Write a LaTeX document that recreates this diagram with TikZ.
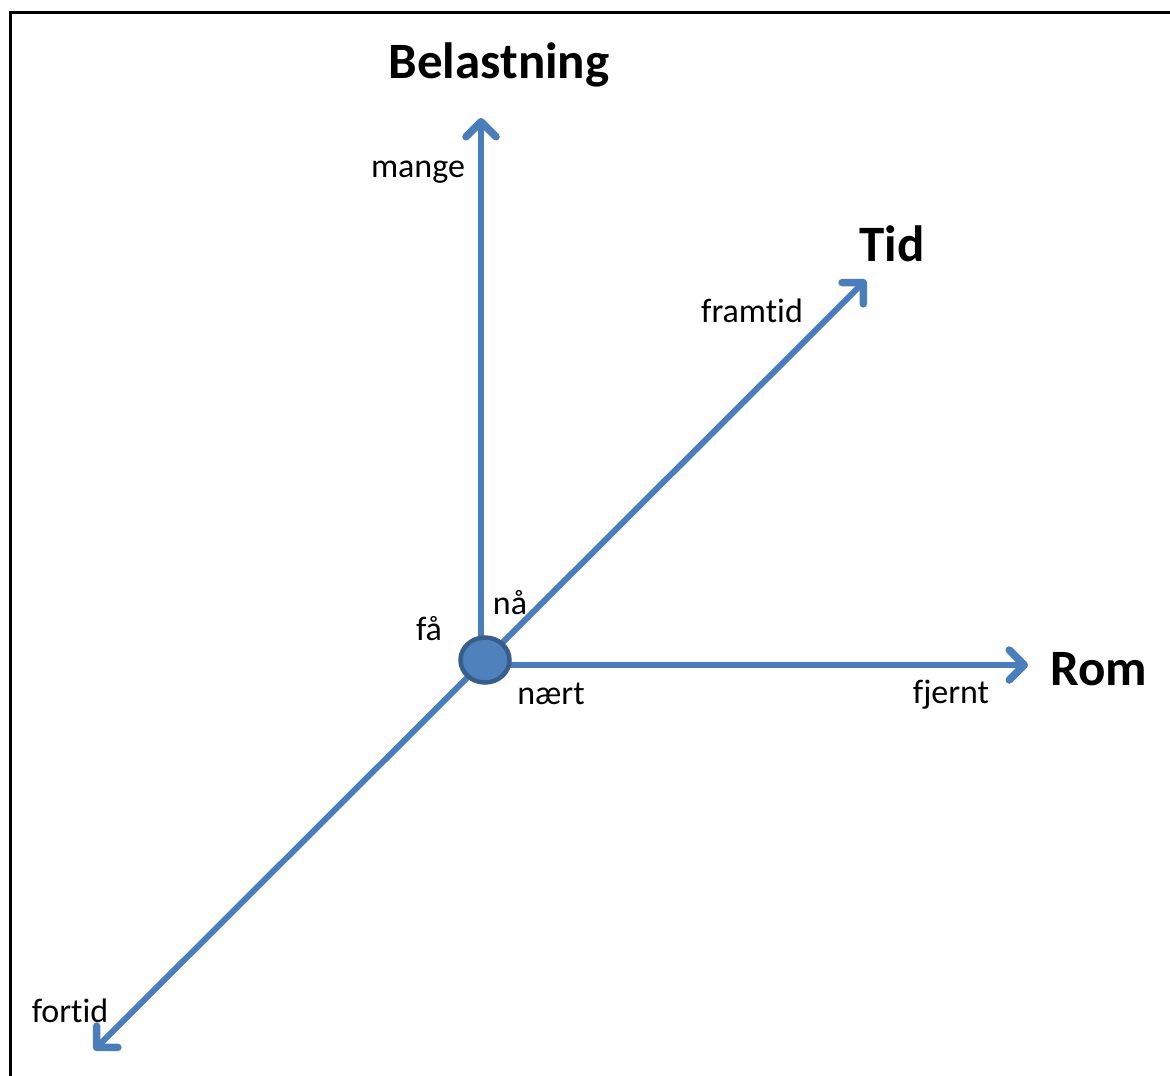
\documentclass[tikz,border=0pt]{standalone}
\usepackage{fontspec}
\setmainfont{Carlito}[Ligatures=NoCommon]
\usetikzlibrary{arrows.meta,shapes.geometric}
\definecolor{axisblue}{HTML}{4A7EBB}
\definecolor{dotfill}{HTML}{4F81BD}
\definecolor{dotline}{HTML}{385D8A}
\tikzset{
  axis/.style={draw=axisblue, line width=6pt, -{Straight Barb[length=15pt,width=30pt,line width=7.5pt,line cap=round,line join=round]}},
  small/.style={font=\fontsize{34}{38}\selectfont, inner sep=0pt},
  big/.style={font=\fontsize{51}{56}\selectfont\bfseries, inner sep=0pt},
  frame/.style={draw=black, line width=3pt}
}
\begin{document}
\begin{tikzpicture}[x=1pt,y=-1pt]
\useasboundingbox (0,0) rectangle (1170,1076);
\fill[white] (0,0) rectangle (1170,1076);
\coordinate (fl) at (10,1090);
\coordinate (tl) at (10,12);
\coordinate (tr) at (1185,12);
\draw[frame] (fl) -- (tl) -- (tr);
\coordinate (c) at (485,660);
\coordinate (vb) at (481,645);
\coordinate (up) at (481,118);
\coordinate (ne) at (866,280);
\coordinate (ea) at (1028,665);
\coordinate (eb) at (505,665);
\coordinate (sw) at (94,1050);
\draw[axis] (vb) -- (up);
\draw[axis] (c) -- (ne);
\draw[axis] (eb) -- (ea);
\draw[axis] (c) -- (sw);
\node[draw=dotline, fill=dotfill, line width=4.5pt, ellipse, minimum width=49pt, minimum height=45pt, inner sep=0pt] (dot) at (c) {};
\node[big] (bel) at (499,65) {Belastning};
\node[big] (tid) at (892,244) {Tid};
\node[big] (rom) at (1099,669) {Rom};
\node[small] (mange) at (418,172) {mange};
\node[small] (framtid) at (752,311) {framtid};
\node[small] (naa) at (510,603) {nå};
\node[small] (faa) at (429,629) {få};
\node[small] (naert) at (551,694) {nært};
\node[small] (fjernt) at (951,695) {fjernt};
\node[small] (fortid) at (70,1011) {fortid};
\end{tikzpicture}
\end{document}
